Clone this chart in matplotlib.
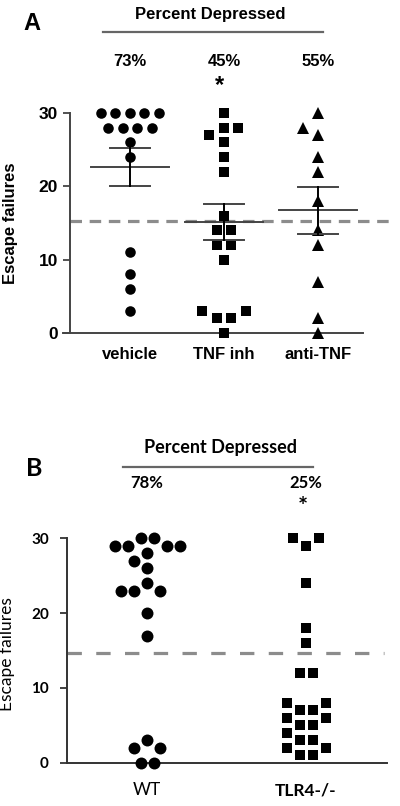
import numpy as np
import matplotlib
matplotlib.use("Agg")
import matplotlib.pyplot as plt
from matplotlib.lines import Line2D

# Panel A: escape failures per group
groups_a = ["vehicle", "TNF inh", "anti-TNF"]
vehicle = [30, 30, 30, 30, 30, 28, 28, 28, 28, 26, 24, 11, 8, 6, 3]
tnf_inh = [30, 28, 28, 27, 26, 24, 22, 16, 14, 14, 12, 12, 10, 3, 3, 2, 2, 0]
anti_tnf = [30, 28, 27, 24, 22, 18, 14, 12, 7, 2, 0]
pct_a = [73, 45, 55]
star_a = [False, True, False]
cutoff_a = 15.3

# Panel B
groups_b = ["WT", "TLR4-/-"]
wt = [30, 30, 29, 29, 29, 29, 28, 27, 26, 24, 23, 23, 23, 20, 17, 3, 2, 2, 0, 0]
tlr4 = [30, 30, 29, 24, 18, 16, 12, 12, 8, 8, 7, 7, 6, 6, 5, 5, 4, 3, 3, 2, 2, 1, 1]
pct_b = [78, 25]
star_b = [False, True]
cutoff_b = 14.6

yticks = [0, 10, 20, 30]

W, H = 400, 806


def swarm(vals, d, ppu_y, ppu_x, order="asc", lim=0.85):
    # simple beeswarm: equal values centred in a row, otherwise nearest free slot
    vals = np.asarray(vals, float)
    xs = np.zeros(len(vals))
    placed = []
    levels = sorted(set(vals), reverse=(order == "desc"))
    cands = sorted([k * d / 2 for k in range(-12, 13)], key=lambda c: (abs(c), c))
    for v in levels:
        idx = np.where(vals == v)[0]
        n = len(idx)
        y = v * ppu_y

        def free(x, row=()):
            ok = all(np.hypot(x - px, y - py) >= lim * d for px, py in placed)
            return ok and all(abs(x - r) >= lim * d for r in row)

        ideal = [(k - (n - 1) / 2) * d for k in range(n)]
        if all(free(x) for x in ideal):
            row = ideal
        else:
            row = []
            for _ in range(n):
                for c in cands:
                    if free(c, row):
                        row.append(c)
                        break
        for j, x in zip(idx, row):
            xs[j] = x / ppu_x
        placed += [(x, y) for x in row]
    return xs


def fx(px):
    return px / W


def fy(py):
    return 1 - py / H


fig = plt.figure(figsize=(W / 100, H / 100), dpi=100)

# ---------------- Panel A ----------------
fa = "Liberation Sans"
axA = fig.add_axes([fx(70), fy(333), (363 - 70) / W, (333 - 113) / H])
xlo, xhi = -0.638, 2.479
axA.set_xlim(xlo, xhi)
axA.set_ylim(0, 30)
ppx_a = 293 / (xhi - xlo)
ppy_a = 220 / 30

data_a = [vehicle, tnf_inh, anti_tnf]
markers_a = ["o", "s", "^"]
msize_a = [7.6, 7.0, 8.0]
for i, (vals, m, ms) in enumerate(zip(data_a, markers_a, msize_a)):
    off = swarm(vals, 14.5, ppy_a, ppx_a, order="asc")
    axA.plot(i + off, vals, ls="none", marker=m, ms=ms, color="black",
             mew=0, clip_on=False, zorder=3)
    mean = np.mean(vals)
    sem = np.std(vals, ddof=1) / np.sqrt(len(vals))
    axA.plot([i - 0.415, i + 0.415], [mean, mean], color="#444444", lw=1.4, zorder=4)
    axA.plot([i - 0.21, i + 0.21], [mean + sem] * 2, color="#444444", lw=1.4, zorder=4)
    axA.plot([i - 0.21, i + 0.21], [mean - sem] * 2, color="#444444", lw=1.4, zorder=4)
    axA.plot([i, i], [mean - sem, mean + sem], color="black", lw=1.4, zorder=4)

axA.axhline(cutoff_a, xmin=0, xmax=1.099, color="#8c8c8c", lw=2.3,
            dashes=(3.6, 2.4), clip_on=False, zorder=2)

for s in ["top", "right"]:
    axA.spines[s].set_visible(False)
for s in ["left", "bottom"]:
    axA.spines[s].set_color("#444444")
    axA.spines[s].set_linewidth(1.4)
axA.spines["bottom"].set_bounds(xlo - 7 / ppx_a, xhi)
axA.set_xticks(range(len(groups_a)))
axA.set_xticklabels(groups_a, fontfamily=fa, fontweight="bold", fontsize=12)
axA.set_yticks(yticks)
axA.set_yticklabels([str(t) for t in yticks], fontfamily=fa, fontweight="bold", fontsize=12.5)
axA.tick_params(axis="x", length=0, pad=10)
axA.tick_params(axis="y", length=5, width=1.3, color="#444444", pad=3.5)
axA.set_ylabel("Escape failures", fontfamily=fa, fontweight="bold", fontsize=12)
axA.yaxis.set_label_coords((18 - 70) / 293, 0.5)

tA = axA.get_xaxis_transform()
for i, p in enumerate(pct_a):
    axA.text(i, (333 - 62) / 220, f"{p}%", transform=tA, ha="center", va="center",
             fontfamily=fa, fontweight="bold", fontsize=12)
    if star_a[i]:
        axA.text(i - 0.05, (333 - 86) / 220, "*", transform=tA, ha="center", va="center",
                 fontfamily=fa, fontweight="bold", fontsize=17)

fig.text(fx(32), fy(24), "A", ha="center", va="center", fontfamily=fa,
         fontweight="bold", fontsize=17)
fig.text(fx(210), fy(14), "Percent Depressed", ha="center", va="center",
         fontfamily=fa, fontweight="bold", fontsize=12)
fig.add_artist(Line2D([fx(103), fx(323)], [fy(32), fy(32)], color="#666666", lw=1.6))

# ---------------- Panel B ----------------
fb = "Lato"
axB = fig.add_axes([fx(67), fy(762.7), (387 - 67) / W, (762.7 - 538.3) / H])
xlo_b, xhi_b = -0.503, 1.509
axB.set_xlim(xlo_b, xhi_b)
axB.set_ylim(0, 30)
ppx_b = 320 / (xhi_b - xlo_b)
ppy_b = 224.4 / 30

data_b = [wt, tlr4]
markers_b = ["o", "s"]
msize_b = [8.6, 7.8]
orders_b = ["desc", "asc"]
for i, (vals, m, ms, o) in enumerate(zip(data_b, markers_b, msize_b, orders_b)):
    off = swarm(vals, 13, ppy_b, ppx_b, order=o)
    axB.plot(i + off, vals, ls="none", marker=m, ms=ms, color="black",
             mew=0, clip_on=False, zorder=3)

axB.axhline(cutoff_b, xmin=0, xmax=0.99, color="#8c8c8c", lw=2.3,
            dashes=(4.5, 4.5), clip_on=False, zorder=2)

for s in ["top", "right"]:
    axB.spines[s].set_visible(False)
for s in ["left", "bottom"]:
    axB.spines[s].set_color("#333333")
    axB.spines[s].set_linewidth(1.4)
axB.set_xticks(range(len(groups_b)))
axB.set_xticklabels(groups_b, fontfamily=fb, fontsize=12.5)
axB.get_xticklabels()[1].set_fontweight("bold")
axB.set_yticks(yticks)
axB.set_yticklabels([str(t) for t in yticks], fontfamily=fb, fontweight="bold", fontsize=11)
axB.tick_params(axis="x", length=0, pad=14)
axB.tick_params(axis="y", length=5, width=1.3, color="#333333", pad=8)
axB.set_ylabel("Escape failures", fontfamily=fb, fontsize=12.5)
axB.yaxis.set_label_coords((15 - 67) / 320, 0.484)

tB = axB.get_xaxis_transform()
for i, p in enumerate(pct_b):
    axB.text(i, (762.7 - 483) / 224.4, f"{p}%", transform=tB, ha="center", va="center",
             fontfamily=fb, fontweight="bold", fontsize=12)
    if star_b[i]:
        axB.text(i - 0.02, (762.7 - 508) / 224.4, "*", transform=tB, ha="center",
                 va="center", fontfamily=fb, fontweight="bold", fontsize=17)

fig.text(fx(34), fy(469), "B", ha="center", va="center", fontfamily=fb,
         fontweight="bold", fontsize=18)
fig.text(fx(220), fy(448), "Percent Depressed", ha="center", va="center",
         fontfamily=fb, fontweight="bold", fontsize=13)
fig.add_artist(Line2D([fx(123), fx(313)], [fy(467), fy(467)], color="#666666", lw=1.6))

fig.savefig("out.png", dpi=100)
